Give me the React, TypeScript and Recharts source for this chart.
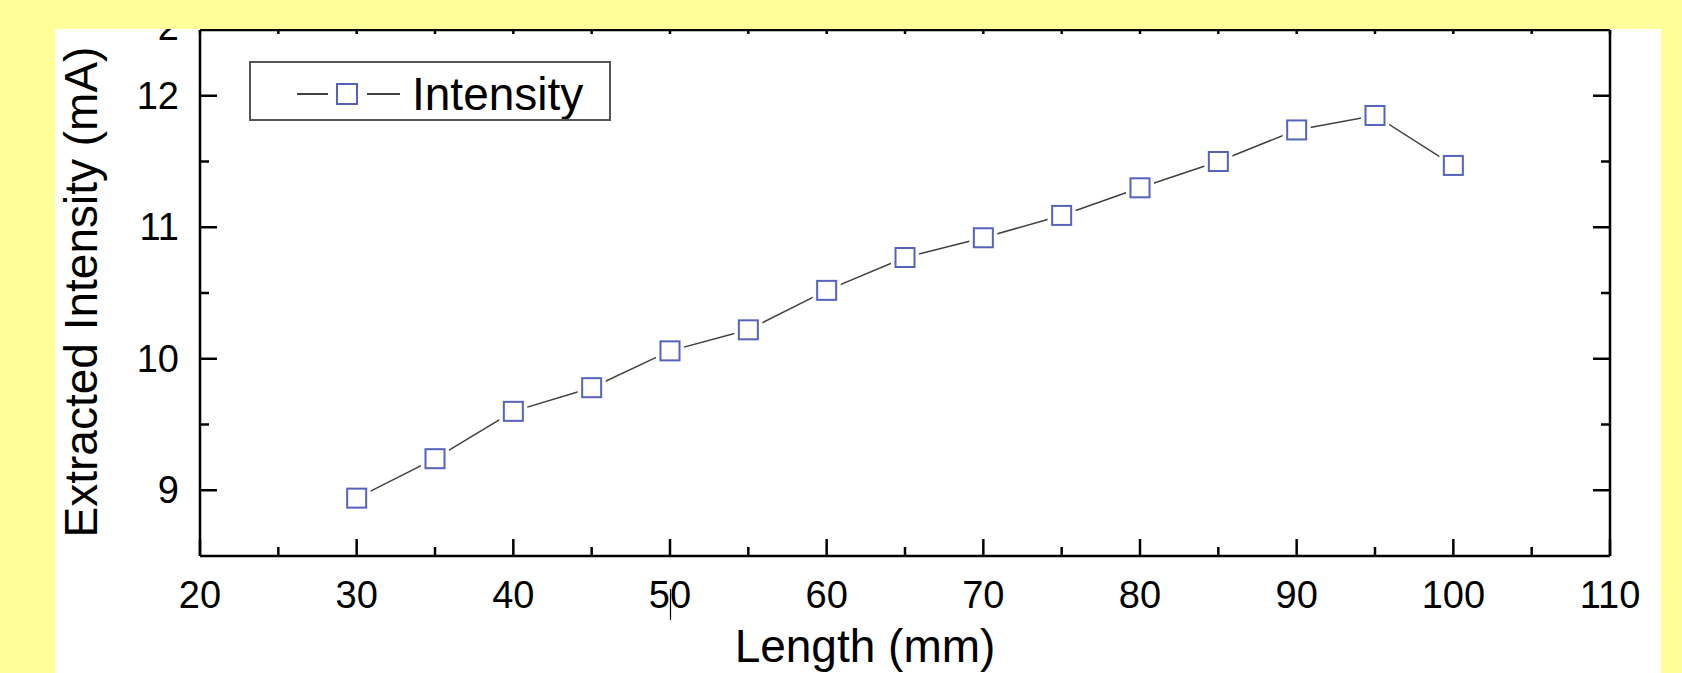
import React from 'react';
import { LineChart, Line, XAxis, YAxis, Legend } from 'recharts';

const lengthMm = [30, 35, 40, 45, 50, 55, 60, 65, 70, 75, 80, 85, 90, 95, 100];
const intensityMA = [8.94, 9.24, 9.6, 9.78, 10.06, 10.22, 10.52, 10.77, 10.92, 11.09, 11.3, 11.5, 11.74, 11.85, 11.47];
const xTickValues = [20, 25, 30, 35, 40, 45, 50, 55, 60, 65, 70, 75, 80, 85, 90, 95, 100, 105, 110];
const yTickValues = [9, 9.5, 10, 10.5, 11, 11.5, 12, 12.5];
const seriesName = 'Intensity';
const xTitle = 'Length (mm)';
const yTitle = 'Extracted Intensity (mA)';

const data = lengthMm.map((x, i) => ({ x, v: intensityMA[i] }));

const FONT = '"Liberation Sans", Arial, Helvetica, sans-serif';
const BLUE = '#5563BE';
const LINE = '#404040';

const BottomTick = (props: any) => {
  const { x, y, payload } = props;
  const v = payload.value;
  const major = v % 10 === 0;
  return (
    <g>
      <line x1={x} x2={x} y1={y} y2={y - (major ? 17 : 9)} stroke="#000" strokeWidth={2.5} />
      {major && (
        <text x={x} y={y + 52} textAnchor="middle" fontSize={38} fontFamily={FONT} fill="#000">
          {v}
        </text>
      )}
      {v === 50 && <line x1={x + 0.5} x2={x + 0.5} y1={y + 33} y2={y + 64} stroke="#000" strokeWidth={1.2} />}
    </g>
  );
};

const TopTick = (props: any) => {
  const { x, y } = props;
  return <line x1={x} x2={x} y1={y} y2={y + 4} stroke="#000" strokeWidth={2.5} />;
};

const LeftTick = (props: any) => {
  const { x, y, payload } = props;
  const v = payload.value;
  if (v === 12.5) {
    return (
      <text x={x - 21} y={y + 10} textAnchor="end" fontSize={38} fontFamily={FONT} fill="#000">
        2
      </text>
    );
  }
  const major = Number.isInteger(v);
  return (
    <g>
      <line x1={x} x2={x + (major ? 17 : 9)} y1={y} y2={y} stroke="#000" strokeWidth={2.5} />
      {major && (
        <text x={x - 21} y={y + 13} textAnchor="end" fontSize={38} fontFamily={FONT} fill="#000">
          {v}
        </text>
      )}
    </g>
  );
};

const RightTick = (props: any) => {
  const { x, y, payload } = props;
  const v = payload.value;
  if (v === 12.5) return <g />;
  const major = Number.isInteger(v);
  return <line x1={x} x2={x - (major ? 17 : 9)} y1={y} y2={y} stroke="#000" strokeWidth={2.5} />;
};

const SquareDot = (props: any) => {
  const { cx, cy } = props;
  if (cx == null || cy == null) return <g />;
  return (
    <g>
      <rect x={cx - 14} y={cy - 14} width={28} height={28} fill="#fff" />
      <rect x={cx - 9.5} y={cy - 9.5} width={19} height={19} fill="#fff" stroke={BLUE} strokeWidth={2} />
    </g>
  );
};

const renderLegend = (props: any) => {
  const name = props?.payload?.[0]?.value ?? seriesName;
  return (
    <div
      style={{
        width: 362,
        height: 60,
        border: '2px solid #555',
        boxSizing: 'border-box',
        background: '#fff',
        position: 'relative',
      }}
    >
      <svg width={358} height={56} style={{ position: 'absolute', left: 0, top: 0 }}>
        <line x1={46} x2={77} y1={31} y2={31} stroke={LINE} strokeWidth={2} />
        <rect x={86} y={21} width={20} height={20} fill="#fff" stroke={BLUE} strokeWidth={2} />
        <line x1={116} x2={149} y1={31} y2={31} stroke={LINE} strokeWidth={2} />
        <text x={161} y={47} fontSize={46} fontFamily={FONT} fill="#000">
          {name}
        </text>
      </svg>
    </div>
  );
};

export default function App() {
  return (
    <div
      style={{
        position: 'fixed',
        left: 0,
        top: 0,
        width: 1682,
        height: 673,
        background: '#FFFF99',
        overflow: 'hidden',
      }}
    >
      <div
        style={{
          position: 'absolute',
          left: 55,
          top: 29,
          width: 1606,
          height: 644,
          background: '#fff',
          overflow: 'hidden',
        }}
      >
        <LineChart width={1606} height={644} data={data} margin={{ top: 0, right: 31, bottom: 57, left: 45 }}>
          <XAxis
            xAxisId="b"
            dataKey="x"
            type="number"
            domain={[20, 110]}
            ticks={xTickValues}
            interval={0}
            tickSize={0}
            tickMargin={0}
            height={60}
            axisLine={{ stroke: '#000', strokeWidth: 2.5 }}
            tickLine={false}
            tick={<BottomTick />}
            allowDataOverflow
          />
          <XAxis
            xAxisId="t"
            orientation="top"
            dataKey="x"
            type="number"
            domain={[20, 110]}
            ticks={xTickValues}
            interval={0}
            tickSize={0}
            tickMargin={0}
            height={1}
            axisLine={{ stroke: '#000', strokeWidth: 2.5 }}
            tickLine={false}
            tick={<TopTick />}
            allowDataOverflow
          />
          <YAxis
            yAxisId="l"
            type="number"
            domain={[8.5, 12.5]}
            ticks={yTickValues}
            interval={0}
            tickSize={0}
            tickMargin={0}
            width={100}
            axisLine={{ stroke: '#000', strokeWidth: 2.5 }}
            tickLine={false}
            tick={<LeftTick />}
            allowDataOverflow
          />
          <YAxis
            yAxisId="r"
            orientation="right"
            type="number"
            domain={[8.5, 12.5]}
            ticks={yTickValues}
            interval={0}
            tickSize={0}
            tickMargin={0}
            width={20}
            axisLine={{ stroke: '#000', strokeWidth: 2.5 }}
            tickLine={false}
            tick={<RightTick />}
            allowDataOverflow
          />
          <Legend
            layout="horizontal"
            verticalAlign="middle"
            align="center"
            content={renderLegend}
            wrapperStyle={{ position: 'absolute', left: 194, top: 32, width: 362, height: 60 }}
          />
          <Line
            xAxisId="b"
            yAxisId="l"
            type="linear"
            dataKey="v"
            name={seriesName}
            stroke={LINE}
            strokeWidth={1.5}
            dot={<SquareDot />}
            activeDot={false}
            isAnimationActive={false}
          />
        </LineChart>
        <svg
          width={1606}
          height={644}
          style={{ position: 'absolute', left: 0, top: 0, pointerEvents: 'none' }}
        >
          <text x={810} y={633} textAnchor="middle" fontSize={46} fontFamily={FONT} fill="#000">
            {xTitle}
          </text>
          <text
            x={42}
            y={263}
            textAnchor="middle"
            fontSize={46}
            fontFamily={FONT}
            fill="#000"
            transform="rotate(-90 42 263)"
          >
            {yTitle}
          </text>
        </svg>
      </div>
    </div>
  );
}
